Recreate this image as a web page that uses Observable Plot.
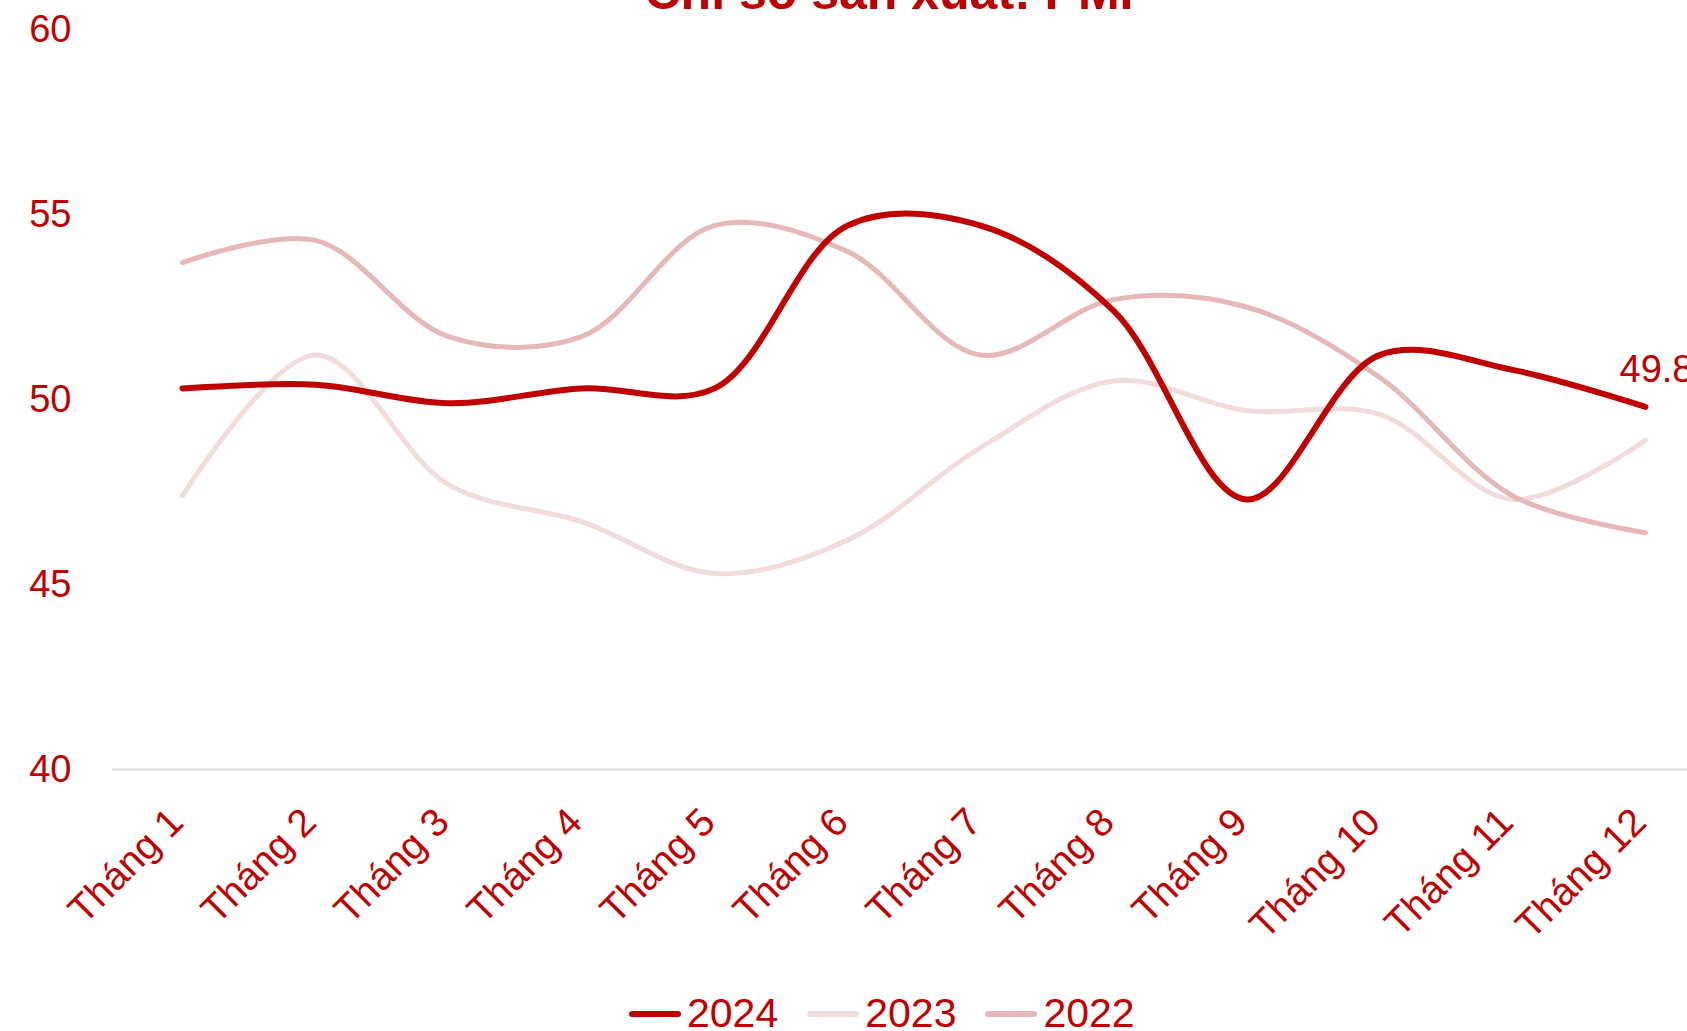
<!DOCTYPE html>
<html><head><meta charset="utf-8">
<script src="https://cdn.jsdelivr.net/npm/d3@7"></script>
<script src="https://cdn.jsdelivr.net/npm/@observablehq/plot@0.6"></script>
<style>
html,body{margin:0;padding:0;background:#fff;overflow:hidden;width:1687px;height:1031px;}
body{position:relative;font-family:"Liberation Sans",Arial,sans-serif;color:#C00000;}
#title{position:absolute;left:0;width:1778px;text-align:center;top:-36px;font-size:50px;line-height:56px;font-weight:bold;color:#C00000;white-space:nowrap;}
#chart{position:absolute;left:0;top:0;width:1715px;}
#legend{position:absolute;top:993px;left:629px;display:flex;font-size:41px;line-height:41px;}
.item{display:flex;align-items:center;margin-right:29px;}
.sw{width:52px;height:6px;border-radius:3px;margin-right:6px;}
</style></head>
<body>
<div id="title">Chỉ số sản xuất: PMI</div>
<div id="chart"></div>
<div id="legend"></div>
<script>
const months = ["Tháng 1","Tháng 2","Tháng 3","Tháng 4","Tháng 5","Tháng 6","Tháng 7","Tháng 8","Tháng 9","Tháng 10","Tháng 11","Tháng 12"];
const years = ["2024","2023","2022"];
const pmi2024 = [50.3, 50.4, 49.9, 50.3, 50.3, 54.7, 54.7, 52.4, 47.3, 51.2, 50.8, 49.8];
const pmi2023 = [47.4, 51.2, 47.7, 46.7, 45.3, 46.2, 48.7, 50.5, 49.7, 49.6, 47.3, 48.9];
const pmi2022 = [53.7, 54.3, 51.7, 51.7, 54.7, 54.0, 51.2, 52.7, 52.5, 50.6, 47.4, 46.4];
const yTicks = [40, 45, 50, 55, 60];
const colors = {"2024":"#C00000","2023":"#F2DCDB","2022":"#E6B9B8"};
const widths = {"2024":6,"2023":5,"2022":5};

const series = {"2024":pmi2024,"2023":pmi2023,"2022":pmi2022};
const rows = [];
for (const y of ["2023","2022","2024"]) series[y].forEach((v,i)=>rows.push({year:y, month:months[i], value:v}));

const marks = [Plot.ruleY([40], {stroke:"#D9D9D9", strokeWidth:2})];
for (const y of ["2023","2022","2024"]) {
  marks.push(Plot.line(rows.filter(d=>d.year===y), {x:"month", y:"value", stroke:colors[y], strokeWidth:widths[y], curve:"catmull-rom", strokeLinecap:"round", strokeLinejoin:"round"}));
}
marks.push(Plot.text([{month:months[11], value:pmi2024[11]}], {x:"month", y:"value", text:d=>d.value.toFixed(1), dx:-26, dy:-37, textAnchor:"start", fill:"#C00000", fontSize:38}));
marks.push(Plot.axisY({ticks:yTicks, tickSize:0, tickPadding:41, fontSize:38, color:"#C00000"}));
marks.push(Plot.axisX({tickSize:0, tickRotate:-45, tickPadding:46, dx:-6, fontSize:39, color:"#C00000"}));

const plot = Plot.plot({
  width:1715, height:960,
  marginLeft:112, marginRight:0, marginTop:29, marginBottom:191,
  style:{fontFamily:"'Liberation Sans', Arial, sans-serif", color:"#C00000", background:"transparent", overflow:"visible", maxWidth:"none"},
  x:{domain:months, type:"point", padding:0.5, label:null},
  y:{domain:[40,60], label:null},
  marks
});
plot.style.maxWidth = "none";
document.getElementById("chart").appendChild(plot);

const lg = document.getElementById("legend");
for (const y of years) {
  const it = document.createElement("div"); it.className="item";
  const sw = document.createElement("div"); sw.className="sw"; sw.style.background=colors[y];
  const tx = document.createElement("span"); tx.textContent=y;
  it.appendChild(sw); it.appendChild(tx); lg.appendChild(it);
}
</script>
</body></html>
